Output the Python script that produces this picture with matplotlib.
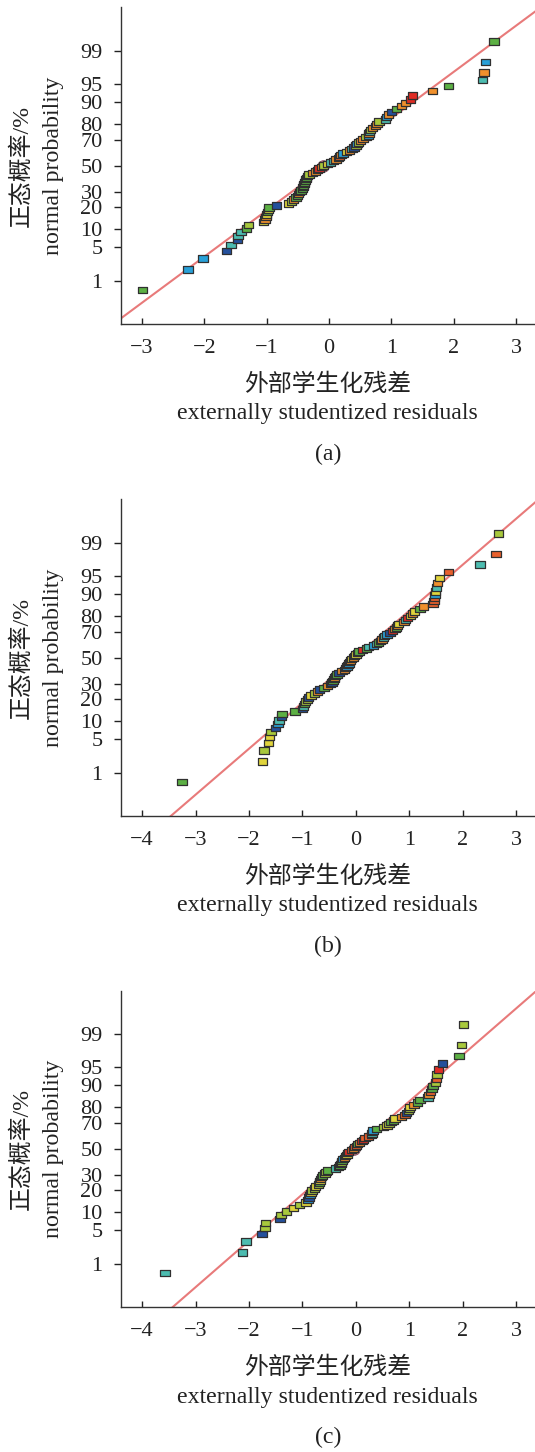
import matplotlib
matplotlib.use('Agg')
import matplotlib.pyplot as plt
from matplotlib.path import Path
from statistics import NormalDist

plt.rcParams['font.family'] = ['Liberation Serif', 'Noto Sans CJK SC']
plt.rcParams['axes.unicode_minus'] = True

# 数据：外部学生化残差（按大小排序），每组 83 个
prob_ticks = [1, 5, 10, 20, 30, 50, 70, 80, 90, 95, 99]
panel_tags = ['(a)', '(b)', '(c)']

resid_a = [-2.99, -2.26, -2.02, -1.64, -1.57, -1.47, -1.46, -1.41, -1.32, -1.29,
           -1.05, -1.03, -1.01, -1.00, -0.99, -0.97, -0.96, -0.84, -0.65, -0.60,
           -0.57, -0.53, -0.51, -0.49, -0.47, -0.45, -0.43, -0.42, -0.41, -0.40,
           -0.39, -0.38, -0.37, -0.36, -0.35, -0.32, -0.27, -0.22, -0.19, -0.16,
           -0.12, -0.09, -0.03, 0.02, 0.07, 0.11, 0.15, 0.17, 0.19, 0.22,
           0.28, 0.33, 0.37, 0.40, 0.43, 0.45, 0.47, 0.50, 0.54, 0.59,
           0.63, 0.64, 0.65, 0.66, 0.70, 0.74, 0.77, 0.80, 0.90, 0.92,
           0.95, 1.00, 1.08, 1.16, 1.22, 1.30, 1.34, 1.66, 1.91, 2.46,
           2.48, 2.51, 2.64]
resid_b = [-3.25, -1.75, -1.72, -1.63, -1.62, -1.59, -1.50, -1.46, -1.44, -1.39,
           -1.38, -1.14, -1.00, -0.985, -0.96, -0.94, -0.91, -0.89, -0.84, -0.78,
           -0.72, -0.68, -0.60, -0.53, -0.48, -0.45, -0.43, -0.41, -0.40, -0.38,
           -0.35, -0.32, -0.26, -0.21, -0.19, -0.17, -0.15, -0.13, -0.12, -0.10,
           -0.08, -0.05, -0.03, 0.00, 0.03, 0.06, 0.12, 0.20, 0.24, 0.33,
           0.38, 0.42, 0.46, 0.49, 0.52, 0.54, 0.58, 0.64, 0.68, 0.73,
           0.76, 0.78, 0.80, 0.90, 0.93, 0.97, 1.02, 1.06, 1.10, 1.20,
           1.26, 1.44, 1.46, 1.47, 1.48, 1.49, 1.51, 1.53, 1.56, 1.73,
           2.32, 2.62, 2.67]
resid_c = [-3.57, -2.12, -2.06, -1.76, -1.70, -1.69, -1.42, -1.40, -1.30, -1.17,
           -1.06, -0.93, -0.90, -0.88, -0.86, -0.84, -0.82, -0.78, -0.76, -0.70,
           -0.68, -0.67, -0.66, -0.64, -0.62, -0.58, -0.56, -0.53, -0.38, -0.33,
           -0.30, -0.28, -0.27, -0.26, -0.24, -0.21, -0.19, -0.17, -0.16, -0.14,
           -0.08, -0.04, -0.02, 0.01, 0.03, 0.07, 0.11, 0.14, 0.17, 0.23,
           0.29, 0.30, 0.31, 0.32, 0.39, 0.52, 0.58, 0.62, 0.66, 0.70,
           0.73, 0.85, 0.92, 0.95, 0.98, 1.00, 1.01, 1.09, 1.15, 1.20,
           1.35, 1.37, 1.39, 1.42, 1.44, 1.49, 1.51, 1.52, 1.54, 1.62,
           1.93, 1.98, 2.01]

# 颜色等级 (0 蓝 ... 8 红)
level_a = [3, 1, 1, 0, 2, 0, 2, 2, 3, 4, 5, 6, 6, 5, 3, 5, 3, 0, 5, 4,
           6, 3, 3, 6, 5, 3, 3, 4, 3, 6, 3, 3, 4, 3, 4, 4, 6, 6, 5, 8,
           6, 4, 5, 2, 2, 6, 2, 7, 6, 1, 5, 6, 2, 0, 4, 1, 4, 6, 6, 4,
           1, 6, 2, 4, 6, 6, 6, 4, 2, 1, 6, 0, 3, 6, 6, 8, 8, 6, 3, 2,
           6, 1, 3]
level_b = [3, 5, 4, 5, 5, 4, 0, 1, 2, 0, 3, 3, 0, 2, 3, 4, 4, 0, 5, 4,
           6, 0, 3, 6, 4, 0, 3, 3, 6, 6, 3, 0, 6, 6, 8, 1, 6, 1, 0, 6,
           5, 6, 5, 5, 8, 3, 8, 3, 2, 1, 2, 3, 4, 6, 2, 2, 1, 0, 8, 6,
           3, 6, 5, 6, 2, 8, 5, 6, 5, 3, 6, 7, 7, 7, 1, 5, 2, 6, 5, 7,
           2, 7, 4]
level_c = [2, 2, 2, 0, 4, 4, 0, 4, 4, 5, 4, 5, 1, 0, 1, 5, 4, 4, 5, 4,
           3, 5, 6, 4, 3, 4, 4, 3, 2, 4, 3, 4, 4, 3, 1, 6, 6, 5, 1, 8,
           7, 6, 7, 7, 3, 6, 8, 8, 7, 7, 8, 2, 3, 1, 3, 4, 5, 4, 3, 3,
           5, 6, 7, 0, 4, 4, 5, 6, 3, 3, 2, 6, 7, 3, 3, 4, 7, 4, 8, 0,
           3, 4, 4]

# 拟合直线 z = slope * r + intercept
line_a = (0.934, 0.03)
line_b = (0.93, 0.02)
line_c = (0.94, 0.02)

palette = ['#24509c', '#28a0d8', '#4cbcb0', '#5cb044', '#a8c83c',
           '#e0d43c', '#f0902c', '#e8602c', '#e02c24']

nd = NormalDist()
rect = Path([(-1, -0.68), (1, -0.68), (1, 0.68), (-1, 0.68), (-1, -0.68)],
            [Path.MOVETO, Path.LINETO, Path.LINETO, Path.LINETO, Path.CLOSEPOLY])

fig = plt.figure(figsize=(5.35, 14.52), dpi=100)
H = 1452.0
W = 535.0

panels = [
    (resid_a, level_a, line_a, (-3.34, 3.30), list(range(-3, 4)), 7.3, 324.0, True),
    (resid_b, level_b, line_b, (-4.40, 3.35), list(range(-4, 4)), 499.3, 816.0, False),
    (resid_c, level_c, line_c, (-4.40, 3.35), list(range(-4, 4)), 990.5, 1307.0, True),
]

FS_LAB = 17.2
FS_TICK = 16
left_px = 120.7
for k, (res, lev, line, xlim, xt, top_px, bot_px, center_mark) in enumerate(panels):
    ax = fig.add_axes([left_px / W, 1 - bot_px / H, (W - left_px) / W, (bot_px - top_px) / H])
    n = len(res)
    z = [nd.inv_cdf((i + 0.5) / n) for i in range(n)]

    xs = [xlim[0] - 0.5, xlim[1] + 0.5]
    ax.plot(xs, [line[0] * v + line[1] for v in xs], color='#e87a7a', lw=1.5, zorder=1)

    if center_mark:
        ax.scatter([res[41]], [z[41]], s=70, marker='o', facecolor='#b07080',
                   edgecolor='#8a5060', lw=0.6, zorder=2)
    ax.scatter(res, z, s=46, marker=rect, c=[palette[v] for v in lev],
               edgecolors='#303030', linewidths=0.9, zorder=3)

    ax.set_xlim(*xlim)
    ax.set_ylim(-3.2, 3.2)
    ax.set_xticks(xt)
    ax.set_xticklabels([str(v).replace('-', '\u2212') for v in xt])
    ax.set_yticks([nd.inv_cdf(p / 100) for p in prob_ticks])
    ax.set_yticklabels([str(p) for p in prob_ticks])
    ax.tick_params(axis='x', direction='in', length=4, width=1, pad=11,
                   labelsize=FS_TICK, colors='#222222')
    ax.tick_params(axis='y', direction='out', length=5, width=1, pad=8,
                   labelsize=FS_TICK, colors='#222222')
    for s in ['top', 'right']:
        ax.spines[s].set_visible(False)
    for s in ['left', 'bottom']:
        ax.spines[s].set_color('#333333')
        ax.spines[s].set_linewidth(1.0)

    cy = 1 - (top_px + bot_px) / 2 / H
    fig.text(21.7 / W, cy, '正态概率/%', rotation=90, ha='center', va='center',
             fontsize=FS_LAB, color='#222222')
    fig.text(53.3 / W, cy, 'normal probability', rotation=90, ha='center', va='center',
             fontsize=FS_LAB, color='#222222')

    cx = (left_px + W) / 2 / W
    fig.text(cx, 1 - (bot_px + 61) / H, '外部学生化残差', ha='center', va='center',
             fontsize=FS_LAB, color='#222222')
    fig.text(cx, 1 - (bot_px + 90) / H, 'externally studentized residuals',
             ha='center', va='center', fontsize=FS_LAB, color='#222222')
    fig.text(cx, 1 - (bot_px + 130) / H, panel_tags[k], ha='center', va='center',
             fontsize=FS_LAB, color='#222222')

fig.savefig('out.png', dpi=100)
